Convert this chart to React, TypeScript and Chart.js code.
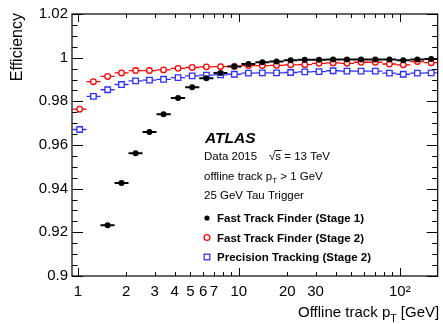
import React, { useEffect, useRef } from 'react';
import { Chart, registerables } from 'chart.js';

Chart.register(...registerables);

// ---- data ----
const ptCenters = [1.026, 1.25, 1.532, 1.867, 2.285, 2.785, 3.408, 4.195, 5.133, 6.291, 7.7, 9.385, 11.48, 14.0, 17.15, 20.99, 25.69, 31.49, 38.54, 46.97, 57.48, 70.46, 86.23, 105.1, 128.6, 156.7];

const ftfStage1: (number | null)[] = [null, null, 0.9232, 0.9426, 0.9562, 0.966, 0.9741, 0.9815, 0.9865, 0.9906, 0.993, 0.9959, 0.9971, 0.9979, 0.9983, 0.9988, 0.999, 0.9991, 0.9992, 0.9992, 0.9992, 0.9992, 0.9992, 0.9988, 0.9992, 0.9994];

const ftfStage2 = [0.9764, 0.989, 0.9914, 0.993, 0.9941, 0.9941, 0.9944, 0.9951, 0.9955, 0.9958, 0.9959, 0.996, 0.9964, 0.9964, 0.9965, 0.9967, 0.9968, 0.9974, 0.9976, 0.9974, 0.9979, 0.9979, 0.9971, 0.9967, 0.9982, 0.9977];

const precisionStage2 = [0.9671, 0.9823, 0.9853, 0.9877, 0.9894, 0.9897, 0.9901, 0.9909, 0.9917, 0.992, 0.9921, 0.9924, 0.9929, 0.993, 0.993, 0.9932, 0.9935, 0.9936, 0.994, 0.9938, 0.9938, 0.9938, 0.9929, 0.9924, 0.9929, 0.993];

const xTickValues = [1, 2, 3, 4, 5, 6, 7, 10, 20, 30, 100];
const xTickLabels = ['1', '2', '3', '4', '5', '6', '7', '10', '20', '30', '10\u00B2'];
const yTickValues = [0.9, 0.92, 0.94, 0.96, 0.98, 1, 1.02];
const yTickLabels = ['0.9', '0.92', '0.94', '0.96', '0.98', '1', '1.02'];

const seriesLabels = ['Fast Track Finder (Stage 1)', 'Fast Track Finder (Stage 2)', 'Precision Tracking (Stage 2)'];
const atlasLabel = 'ATLAS';
const infoLines = ['Data 2015', 's = 13 TeV', 'offline track p', 'T', ' > 1 GeV', '25 GeV Tau Trigger'];
const yTitle = 'Efficiency';
const xTitleParts = ['Offline track p', 'T', ' [GeV]'];

const FONT = '"Liberation Sans", Arial, Helvetica, sans-serif';

const styles = [
  { color: '#000000', fill: '#000000', pointStyle: 'circle', radius: 3, bar: 2 },
  { color: '#ff0000', fill: '#ffffff', pointStyle: 'circle', radius: 2.8, bar: 1.3 },
  { color: '#2f2fff', fill: '#ffffff', pointStyle: 'rect', radius: 3.9, bar: 1.3 },
];

function binEdges(i: number): [number, number] {
  const c = ptCenters;
  const lo = i > 0 ? Math.sqrt(c[i - 1] * c[i]) : c[0] * Math.sqrt(c[0] / c[1]);
  const hi = i < c.length - 1 ? Math.sqrt(c[i] * c[i + 1]) : c[i] * Math.sqrt(c[i] / c[i - 1]);
  return [lo, hi];
}

const errorBarPlugin = {
  id: 'errorBars',
  beforeDatasetsDraw(chart: any) {
    const { ctx, chartArea, scales } = chart;
    const x = scales.x;
    const y = scales.y;
    ctx.save();
    ctx.beginPath();
    ctx.rect(chartArea.left, chartArea.top, chartArea.right - chartArea.left, chartArea.bottom - chartArea.top);
    ctx.clip();
    for (let di = chart.data.datasets.length - 1; di >= 0; di--) {
      const ds = chart.data.datasets[di];
      const st = styles[di];
      ctx.strokeStyle = st.color;
      ctx.lineWidth = st.bar;
      ds.data.forEach((p: any, i: number) => {
        if (p.y == null) return;
        const [lo, hi] = binEdges(i);
        const py = y.getPixelForValue(p.y);
        ctx.beginPath();
        ctx.moveTo(x.getPixelForValue(lo), py);
        ctx.lineTo(x.getPixelForValue(hi), py);
        ctx.stroke();
      });
    }
    ctx.restore();
  },
};

const framePlugin = {
  id: 'frame',
  afterDraw(chart: any) {
    const { ctx, chartArea, scales } = chart;
    const { left, right, top, bottom } = chartArea;
    const x = scales.x;
    const y = scales.y;
    ctx.save();
    ctx.strokeStyle = '#000';
    ctx.lineWidth = 1.2;
    ctx.strokeRect(left, top, right - left, bottom - top);
    ctx.lineWidth = 1;
    for (const d of [1, 10, 100]) {
      for (let k = 1; k <= 9; k++) {
        const v = k * d;
        if (v < x.min || v > x.max) continue;
        const len = k === 1 ? 8 : 4;
        const px = Math.round(x.getPixelForValue(v)) + 0.5;
        ctx.beginPath();
        ctx.moveTo(px, bottom);
        ctx.lineTo(px, bottom - len);
        ctx.moveTo(px, top);
        ctx.lineTo(px, top + len);
        ctx.stroke();
      }
    }
    for (let i = 0; i <= 24; i++) {
      const v = 0.9 + i * 0.005;
      const len = i % 4 === 0 ? 11 : 5.5;
      const py = Math.round(y.getPixelForValue(v)) + 0.5;
      ctx.beginPath();
      ctx.moveTo(left, py);
      ctx.lineTo(left + len, py);
      ctx.moveTo(right, py);
      ctx.lineTo(right - len, py);
      ctx.stroke();
    }
    ctx.restore();
  },
};

const textPlugin = {
  id: 'texts',
  afterDraw(chart: any) {
    const { ctx, chartArea } = chart;
    ctx.save();
    ctx.fillStyle = '#000';
    ctx.textBaseline = 'alphabetic';
    ctx.textAlign = 'left';

    // y title
    ctx.save();
    ctx.font = `16px ${FONT}`;
    ctx.translate(21.5, chartArea.top - 1);
    ctx.rotate(-Math.PI / 2);
    ctx.textAlign = 'right';
    ctx.fillText(yTitle, 0, 0);
    ctx.restore();

    // x title with subscript
    ctx.font = `15px ${FONT}`;
    const w0 = ctx.measureText(xTitleParts[0]).width;
    const w2 = ctx.measureText(xTitleParts[2]).width;
    ctx.font = `10.5px ${FONT}`;
    const w1 = ctx.measureText(xTitleParts[1]).width;
    const xEnd = chartArea.right + 1.5;
    const xStart = xEnd - w0 - w1 - w2;
    ctx.font = `15px ${FONT}`;
    ctx.fillText(xTitleParts[0], xStart, 317);
    ctx.fillText(xTitleParts[2], xStart + w0 + w1, 317);
    ctx.font = `10.5px ${FONT}`;
    ctx.fillText(xTitleParts[1], xStart + w0, 322);

    // ATLAS
    ctx.font = `italic bold 15.5px ${FONT}`;
    ctx.fillText(atlasLabel, 205, 143);

    // info
    ctx.font = `11.5px ${FONT}`;
    ctx.fillText(infoLines[0], 204, 160);
    const sx = 269;
    ctx.fillText('\u221A', sx, 160);
    const rw = ctx.measureText('\u221A').width;
    ctx.fillText(infoLines[1], sx + rw, 160);
    const sw = ctx.measureText('s').width;
    ctx.strokeStyle = '#000';
    ctx.lineWidth = 0.9;
    ctx.beginPath();
    ctx.moveTo(sx + rw - 0.5, 150.5);
    ctx.lineTo(sx + rw + sw + 0.5, 150.5);
    ctx.stroke();

    ctx.fillText(infoLines[2], 204, 179.5);
    const ow = ctx.measureText(infoLines[2]).width;
    ctx.font = `8px ${FONT}`;
    ctx.fillText(infoLines[3], 204 + ow, 183);
    const tw = ctx.measureText(infoLines[3]).width;
    ctx.font = `11.5px ${FONT}`;
    ctx.fillText(infoLines[4], 204 + ow + tw, 179.5);
    ctx.fillText(infoLines[5], 204, 199);

    // legend
    const ly = [218, 237.5, 257];
    ctx.font = `bold 11.5px ${FONT}`;
    seriesLabels.forEach((lab, i) => {
      ctx.fillText(lab, 217, ly[i] + 4.2);
    });
    const mx = 207;
    ctx.fillStyle = '#000';
    ctx.beginPath();
    ctx.arc(mx, ly[0], 2.6, 0, Math.PI * 2);
    ctx.fill();
    ctx.strokeStyle = styles[1].color;
    ctx.lineWidth = 1.3;
    ctx.beginPath();
    ctx.arc(mx, ly[1], 2.9, 0, Math.PI * 2);
    ctx.stroke();
    ctx.strokeStyle = styles[2].color;
    ctx.strokeRect(mx - 2.8, ly[2] - 2.8, 5.6, 5.6);
    ctx.restore();
  },
};

export default function App() {
  const ref = useRef<HTMLCanvasElement | null>(null);
  useEffect(() => {
    if (!ref.current) return;
    const series = [ftfStage1, ftfStage2, precisionStage2];
    const chart = new Chart(ref.current, {
      type: 'scatter',
      data: {
        datasets: series.map((vals, si) => ({
          label: seriesLabels[si],
          data: ptCenters.map((xv, i) => ({ x: xv, y: vals[i] as any })),
          showLine: false,
          pointStyle: styles[si].pointStyle as any,
          pointRadius: styles[si].radius,
          pointBorderWidth: si === 0 ? 0 : 1.3,
          pointBorderColor: styles[si].color,
          pointBackgroundColor: styles[si].fill,
          order: si,
        })),
      },
      options: {
        animation: false,
        responsive: false,
        events: [],
        layout: { padding: { top: 14, right: 1, left: 0, bottom: 0 } },
        plugins: { legend: { display: false }, tooltip: { enabled: false } },
        scales: {
          x: {
            type: 'logarithmic',
            min: 0.92,
            max: 172,
            grid: { display: false, drawTicks: false },
            border: { display: false },
            afterBuildTicks: (s: any) => {
              s.ticks = xTickValues.map((v) => ({ value: v }));
            },
            afterFit: (s: any) => {
              s.height = 48;
            },
            ticks: {
              autoSkip: false,
              maxRotation: 0,
              minRotation: 0,
              padding: 7,
              color: '#000',
              font: { family: FONT, size: 15 },
              callback: (_v: any, idx: number) => xTickLabels[idx],
            },
          },
          y: {
            type: 'linear',
            min: 0.9,
            max: 1.02,
            grid: { display: false, drawTicks: false },
            border: { display: false },
            afterBuildTicks: (s: any) => {
              s.ticks = yTickValues.map((v) => ({ value: v }));
            },
            afterFit: (s: any) => {
              s.width = 72;
            },
            ticks: {
              autoSkip: false,
              padding: 4,
              color: '#000',
              font: { family: FONT, size: 15 },
              callback: (_v: any, idx: number) => yTickLabels[idx],
            },
          },
        },
      },
      plugins: [errorBarPlugin, framePlugin, textPlugin],
    });
    return () => chart.destroy();
  }, []);
  return (
    <div style={{ position: 'fixed', left: 0, top: 0, width: 443, height: 324, background: '#fff' }}>
      <canvas ref={ref} width={443} height={324} />
    </div>
  );
}
